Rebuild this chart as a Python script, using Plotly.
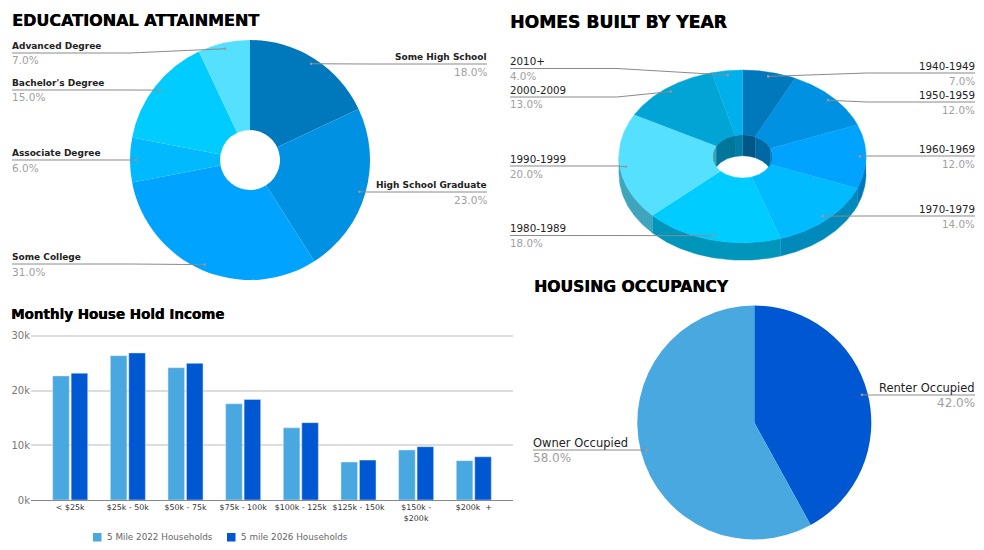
import numpy as np
from plotly import graph_objects as go

W, H = 984, 550

# education
edu_labels = ["Some High School", "High School Graduate", "Some College", "Associate Degree", "Bachelor's Degree", "Advanced Degree"]
edu_values = [18, 23, 31, 6, 15, 7]
edu_colors = ["#0079BC", "#0091E2", "#00A3FF", "#00B9FF", "#00CCFF", "#55E0FF"]

# homes built
homes_labels = ["1940-1949", "1950-1959", "1960-1969", "1970-1979", "1980-1989", "1990-1999", "2000-2009", "2010+"]
homes_values = [7, 12, 12, 14, 18, 20, 13, 4]
homes_colors = ["#0079BC", "#0091E2", "#00A3FF", "#00BBFF", "#00CCFF", "#55E0FF", "#00A5D6", "#00B0EA"]

# occupancy
occ_labels = ["Renter Occupied", "Owner Occupied"]
occ_values = [42, 58]
occ_colors = ["#0057D2", "#4AA8E0"]

# income
income_cats = ["< $25k", "$25k - 50k", "$50k - 75k", "$75k - 100k", "$100k - 125k", "$125k - 150k", "$150k -<br>$200k", "$200k  +"]
households_2022 = [22700, 26400, 24200, 17600, 13200, 6950, 9150, 7200]
households_2026 = [23200, 26900, 25000, 18400, 14150, 7300, 9750, 7900]
income_ticks = [0, 10000, 20000, 30000]
income_ticktext = ["0k", "10k", "20k", "30k"]
series_names = ["5 Mile 2022 Households", "5 mile 2026 Households"]

FONT = "DejaVu Sans"


def px(x):
    return x / W


def py(y):
    return 1 - y / H


def darken(color, k=0.74):
    r, g, b = [int(color[i:i + 2], 16) for i in (1, 3, 5)]
    return "rgb(%d,%d,%d)" % (r * k, g * k, b * k)


def mid_angles(values):
    """Middle of each slice in radians, clockwise from 12 o'clock."""
    vals = np.array(values, dtype=float)
    edges = np.concatenate([[0], np.cumsum(vals)]) / vals.sum() * 2 * np.pi
    return (edges[:-1] + edges[1:]) / 2, edges


def add_label(fig, name, pct, x, line_y, anchor, weight="normal", size=10, pct_size=10):
    shift = -2 if anchor == "left" else 2
    fig.add_annotation(text=name, x=px(x), y=py(line_y - 7.5), xref="paper", yref="paper", showarrow=False,
                       xanchor=anchor, yanchor="middle", xshift=shift,
                       font=dict(family=FONT, size=size, color="#222222", weight=weight))
    fig.add_annotation(text="%.1f%%" % pct, x=px(x), y=py(line_y + 7.5), xref="paper", yref="paper", showarrow=False,
                       xanchor=anchor, yanchor="middle", xshift=shift,
                       font=dict(family=FONT, size=pct_size, color="#A0A0A0"))


def add_leader(fig, x0, line_y, elbow, dx, dy):
    path = "M %f %f L %f %f L %f %f" % (px(x0), py(line_y), px(elbow), py(line_y), px(dx), py(dy))
    fig.add_shape(type="path", path=path, xref="paper", yref="paper", layer="above",
                  line=dict(color="#8A8A8A", width=1))
    fig.add_shape(type="circle", xref="paper", yref="paper", layer="above", line_width=0, fillcolor="#9A9A9A",
                  x0=px(dx - 1.3), x1=px(dx + 1.3), y0=py(dy + 1.3), y1=py(dy - 1.3))


def flat_pie(fig, labels, values, colors, cx, cy, r, hole):
    fig.add_trace(go.Pie(labels=labels, values=values, sort=False, direction="clockwise", rotation=0, hole=hole,
                         marker=dict(colors=colors, line=dict(width=0)), textinfo="none", showlegend=False,
                         domain=dict(x=[px(cx - r), px(cx + r)], y=[py(cy + r), py(cy - r)])))


def add_labelled(fig, labels, values, cx, cy, rx, ry, line_ys, xl, xr, el, er, **kw):
    mids, _ = mid_angles(values)
    for name, v, t, ly in zip(labels, values, mids, line_ys):
        dx = cx + rx * 0.95 * np.sin(t)
        dy = cy - ry * 0.95 * np.cos(t)
        if t < np.pi:
            add_leader(fig, xr, ly, er, dx, dy)
            add_label(fig, name, v, xr, ly, "right", **kw)
        else:
            add_leader(fig, xl, ly, el, dx, dy)
            add_label(fig, name, v, xl, ly, "left", **kw)


def poly(fig, xs, ys, color):
    fig.add_trace(go.Scatter(x=xs, y=ys, mode="lines", fill="toself", fillcolor=color, line=dict(color=color, width=0.5),
                             hoverinfo="skip", showlegend=False, xaxis="x2", yaxis="y2"))


def pie_3d(fig, values, colors, cx, cy, rx, ry, irx, iry, depth, idepth):
    _, edges = mid_angles(values)
    # outer wall, only the front half shows
    for a, b, c in zip(edges[:-1], edges[1:], colors):
        lo, hi = max(a, np.pi / 2), min(b, 3 * np.pi / 2)
        if hi <= lo:
            continue
        t = np.linspace(lo, hi, 60)
        x = cx + rx * np.sin(t)
        y = cy - ry * np.cos(t)
        poly(fig, np.r_[x, x[::-1]], np.r_[y, y[::-1] + depth], darken(c))
    # inner wall, only the back half shows
    for a, b, c in zip(edges[:-1], edges[1:], colors):
        for lo, hi in ((a, min(b, np.pi / 2)), (max(a, 3 * np.pi / 2), b)):
            if hi <= lo:
                continue
            t = np.linspace(lo, hi, 40)
            x = cx + irx * np.sin(t)
            y = cy - iry * np.cos(t)
            poly(fig, np.r_[x, x[::-1]], np.r_[y, y[::-1] + idepth], darken(c, 0.72))
    # top face
    for a, b, c in zip(edges[:-1], edges[1:], colors):
        t = np.linspace(a, b, 80)
        xo, yo = cx + rx * np.sin(t), cy - ry * np.cos(t)
        xi, yi = cx + irx * np.sin(t), cy - iry * np.cos(t)
        poly(fig, np.r_[xo, xi[::-1]], np.r_[yo, yi[::-1]], c)


fig = go.Figure()

# bar chart
fig.add_trace(go.Bar(x=income_cats, y=households_2022, name=series_names[0], marker_color=occ_colors[1], showlegend=False))
fig.add_trace(go.Bar(x=income_cats, y=households_2026, name=series_names[1], marker_color=occ_colors[0], showlegend=False))

# plotly's own legend leaves too wide a gap after the swatch, so this one is drawn by hand
for name, color, x in zip(series_names, [occ_colors[1], occ_colors[0]], [93, 227]):
    fig.add_shape(type="rect", xref="paper", yref="paper", line_width=0, fillcolor=color,
                  x0=px(x), x1=px(x + 8.5), y0=py(541.5), y1=py(533))
    fig.add_annotation(text=name, x=px(x + 14), y=py(537), xref="paper", yref="paper", showarrow=False,
                       xanchor="left", yanchor="middle", xshift=-2, font=dict(family=FONT, size=8.8, color="#666666"))

# pseudo 3d pie, drawn on a pixel axis
pie_3d(fig, homes_values, homes_colors, 742.5, 156.4, 123.5, 86.3, 30, 21.7, 17.5, 21)

flat_pie(fig, edu_labels, edu_values, edu_colors, 250, 160, 120, 0.25)
flat_pie(fig, occ_labels, occ_values, occ_colors, 754.3, 422.5, 117, 0)

add_labelled(fig, edu_labels, edu_values, 250, 160, 120, 120, [64, 192, 264, 160, 90, 53], 12, 487, 130, 370, weight="bold", size=9, pct_size=10.5)
add_labelled(fig, homes_labels, homes_values, 742.5, 156.4, 123.5, 86.3, [73, 102, 156, 216, 235.5, 166, 97, 68.5], 510, 975, 617, 867, size=10.3, pct_size=10.3)
add_labelled(fig, occ_labels, occ_values, 754.3, 422.5, 117, 117, [395, 450], 533, 975, 640, 870, size=11.5, pct_size=12)

titles = [("EDUCATIONAL ATTAINMENT", 12, 20, 16), ("HOMES BUILT BY YEAR", 510, 22, 17.2),
          ("HOUSING OCCUPANCY", 534, 287, 15.6), ("Monthly House Hold Income", 11, 314, 13.5)]
for text, x, y, size in titles:
    fig.add_annotation(text="<b>" + text + "</b>", x=px(x), y=py(y), xref="paper", yref="paper", showarrow=False,
                       xanchor="left", yanchor="middle", xshift=-2,
                       font=dict(family=FONT, size=size, color="#000000", shadow="0.4px 0 0 #000000"))

fig.update_layout(
    width=W, height=H, margin=dict(l=0, r=0, t=0, b=0, autoexpand=False), paper_bgcolor="white", plot_bgcolor="rgba(0,0,0,0)",
    barmode="group", bargap=0.36, bargroupgap=0.1, font=dict(family=FONT), showlegend=False,
    xaxis=dict(domain=[px(31), px(513)], range=[-0.68, 7.68], showline=True, linecolor="#888888", linewidth=1,
               ticks="", showgrid=False, tickfont=dict(size=7.9, color="#333333"), tickangle=0),
    # top of the range sits a bit above 30k, otherwise plotly drops that gridline
    yaxis=dict(domain=[py(500), py(334.6)], range=[0, 30250], tickvals=income_ticks, ticktext=income_ticktext,
               gridcolor="#DDDDDD", gridwidth=1.5, zeroline=False, ticks="", tickfont=dict(size=10, color="#777777")),
    xaxis2=dict(domain=[0, 1], range=[0, W], visible=False, anchor="y2"),
    yaxis2=dict(domain=[0, 1], range=[H, 0], visible=False, anchor="x2"),
)

fig.write_html("out.html", config=dict(displayModeBar=False), post_script="document.body.style.margin='0';")
